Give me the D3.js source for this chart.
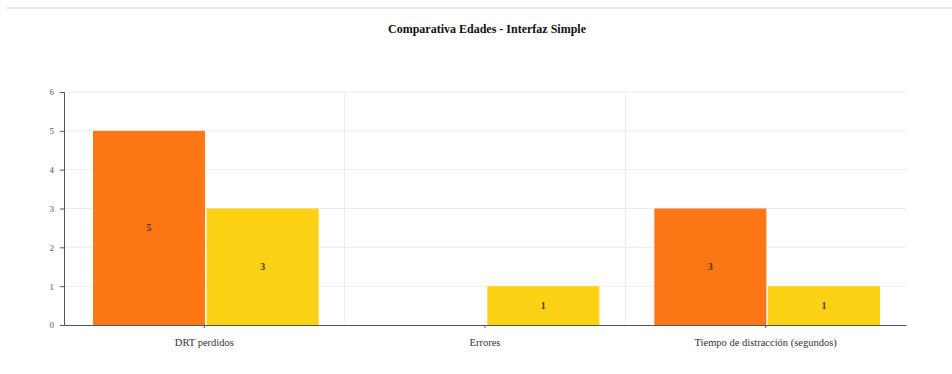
<!DOCTYPE html>
<html>
<head>
<meta charset="utf-8">
<script src="https://cdn.jsdelivr.net/npm/d3@7"></script>
<style>
  html, body { margin: 0; padding: 0; background: #fff; }
  svg { display: block; font-family: "Liberation Serif", "DejaVu Serif", serif; }
</style>
</head>
<body>
<svg id="chart" width="952" height="374"></svg>
<script>
// Chart content
const title = "Comparativa Edades - Interfaz Simple";
const categories = ["DRT perdidos", "Errores", "Tiempo de distracción (segundos)"];
const seriesNames = ["Grupo A", "Grupo B"];
const seriesA = [5, 0, 3];
const seriesB = [3, 1, 1];
const yTicks = [0, 1, 2, 3, 4, 5, 6];
const colors = ["#fe7716", "#fdd214"];

const svg = d3.select("#chart");
const W = 952, H = 374;
const margin = { top: 92, right: 46, bottom: 49, left: 64 };
const innerW = W - margin.left - margin.right;
const innerH = H - margin.top - margin.bottom;

// Thin band along the top edge
svg.append("rect").attr("x", 7).attr("y", 7).attr("width", W - 7).attr("height", 2)
  .attr("fill", "#e6e6e6");

svg.append("text")
  .attr("x", 487).attr("y", 33)
  .attr("text-anchor", "middle")
  .attr("font-size", 12).attr("font-weight", "bold").attr("fill", "#111")
  .text(title);

const g = svg.append("g").attr("transform", `translate(${margin.left},${margin.top})`);

const x0 = d3.scaleBand().domain(categories).range([0, innerW]).paddingInner(0).paddingOuter(0);
const x1 = d3.scaleBand().domain(seriesNames).range([29, x0.bandwidth() - 26]).paddingInner(0.014);
const y = d3.scaleLinear().domain([0, 6]).range([innerH, 0]);

// Horizontal grid lines
g.append("g").selectAll("line").data(yTicks.slice(1)).join("line")
  .attr("x1", 0).attr("x2", innerW)
  .attr("y1", d => y(d)).attr("y2", d => y(d))
  .attr("stroke", "#ececec").attr("stroke-width", 1);

// Vertical grid lines between categories
g.append("g").selectAll("line").data(categories.slice(1)).join("line")
  .attr("x1", d => x0(d)).attr("x2", d => x0(d))
  .attr("y1", 0).attr("y2", innerH)
  .attr("stroke", "#ececec").attr("stroke-width", 1);

const rows = categories.map((c, i) => ({ cat: c, vals: [seriesA[i], seriesB[i]] }));

const groups = g.append("g").selectAll("g").data(rows).join("g")
  .attr("transform", d => `translate(${x0(d.cat)},0)`);

groups.selectAll("rect").data(d => d.vals.map((v, k) => ({ v, k }))).join("rect")
  .attr("x", d => x1(seriesNames[d.k]))
  .attr("width", x1.bandwidth())
  .attr("y", d => y(d.v))
  .attr("height", d => innerH - y(d.v))
  .attr("fill", d => colors[d.k]);

groups.selectAll("text").data(d => d.vals.map((v, k) => ({ v, k })).filter(d => d.v > 0)).join("text")
  .attr("x", d => x1(seriesNames[d.k]) + x1.bandwidth() / 2)
  .attr("y", d => (y(d.v) + innerH) / 2 + 3)
  .attr("text-anchor", "middle")
  .attr("font-size", 10).attr("font-weight", "bold").attr("fill", "#4a3a10")
  .text(d => d.v);

// Axes
const yAxis = g.append("g")
  .call(d3.axisLeft(y).tickValues(yTicks).tickSize(4).tickPadding(6).tickFormat(d3.format("d")));
yAxis.select(".domain").attr("stroke", "#555");
yAxis.selectAll(".tick line").attr("stroke", "#555");
yAxis.selectAll("text").attr("font-size", 9).attr("fill", "#555")
  .attr("font-family", "Liberation Serif, serif");

const xAxis = g.append("g").attr("transform", `translate(0,${innerH})`)
  .call(d3.axisBottom(x0).tickSize(3).tickPadding(11).tickSizeOuter(0));
xAxis.select(".domain").attr("stroke", "#555");
xAxis.selectAll(".tick line").attr("stroke", "#555");
xAxis.selectAll("text").attr("font-size", 10.5).attr("fill", "#333")
  .attr("font-family", "Liberation Serif, serif");
</script>
</body>
</html>
